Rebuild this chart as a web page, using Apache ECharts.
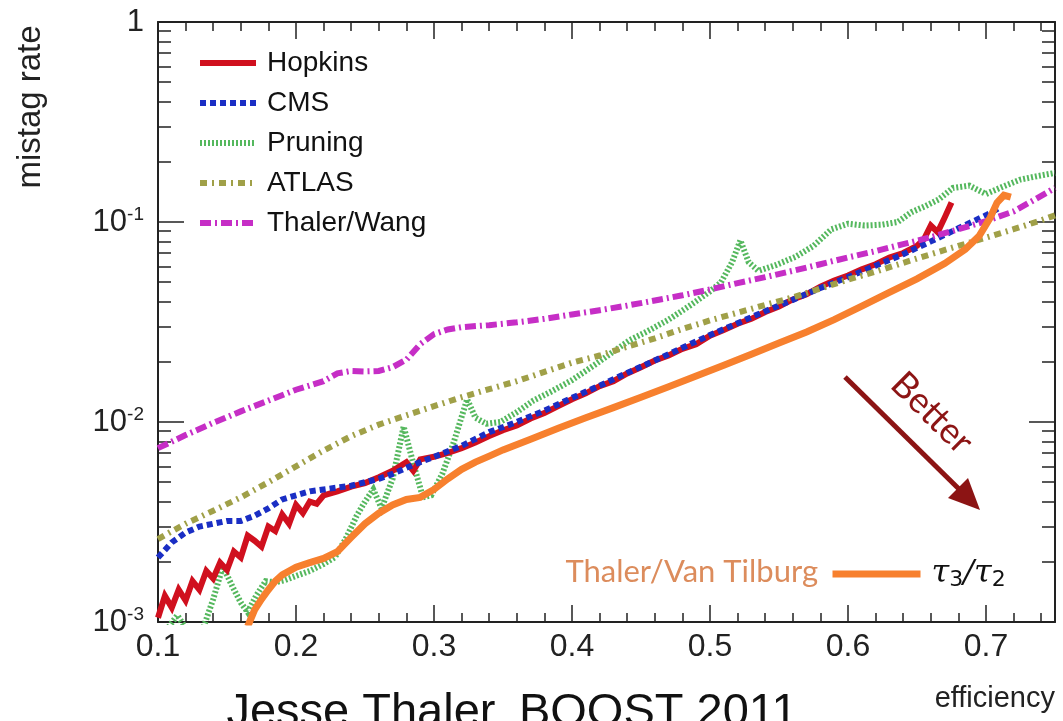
<!DOCTYPE html>
<html><head><meta charset="utf-8">
<script src="https://cdn.jsdelivr.net/npm/echarts@6/dist/echarts.min.js"></script>
<style>html,body{margin:0;padding:0;background:#fff}#c{width:1063px;height:721px}</style>
</head><body><div id="c"></div>
<script>
// ---- tick values ----
const xMajorTicks = [0.1,0.2,0.3,0.4,0.5,0.6,0.7];
const xMinorTicks = [0.12,0.14,0.16,0.18,0.22,0.24,0.26,0.28,0.32,0.34,0.36,0.38,0.42,0.44,0.46,0.48,0.52,0.54,0.56,0.58,0.62,0.64,0.66,0.68,0.72,0.74];
const yMajorTicks = [0.001,0.01,0.1,1];
const yMinorTicks = [0.002,0.003,0.004,0.005,0.006,0.007,0.008,0.009,0.02,0.03,0.04,0.05,0.06,0.07,0.08,0.09,0.2,0.3,0.4,0.5,0.6,0.7,0.8,0.9];

// ---- series [efficiency, mistag rate] ----
const hopkins = [[0.100,0.00105],[0.105,0.00135],[0.110,0.00118],[0.115,0.00145],[0.120,0.00128],[0.125,0.00160],[0.130,0.00145],[0.135,0.00180],[0.140,0.00165],[0.145,0.00198],[0.150,0.00182],[0.155,0.00225],[0.160,0.00210],[0.165,0.00270],[0.170,0.00255],[0.175,0.00238],[0.180,0.00300],[0.185,0.00285],[0.190,0.00345],[0.195,0.00310],[0.200,0.00385],[0.205,0.00350],[0.210,0.00400],[0.215,0.00390],[0.220,0.00430],[0.230,0.00450],[0.240,0.00475],[0.250,0.00495],[0.260,0.00530],[0.270,0.00570],[0.280,0.00630],[0.285,0.00570],[0.290,0.00650],[0.300,0.00670],[0.310,0.00700],[0.320,0.00740],[0.330,0.00790],[0.340,0.00850],[0.350,0.00910],[0.360,0.00960],[0.370,0.01040],[0.380,0.01110],[0.390,0.01200],[0.400,0.01300],[0.410,0.01390],[0.420,0.01510],[0.430,0.01600],[0.440,0.01750],[0.450,0.01880],[0.460,0.02030],[0.470,0.02150],[0.480,0.02320],[0.490,0.02450],[0.500,0.02700],[0.510,0.02880],[0.520,0.03100],[0.530,0.03280],[0.540,0.03550],[0.550,0.03780],[0.560,0.04100],[0.570,0.04350],[0.580,0.04750],[0.590,0.05100],[0.600,0.05400],[0.610,0.05800],[0.620,0.06150],[0.630,0.06650],[0.640,0.07000],[0.650,0.07600],[0.655,0.08200],[0.660,0.09600],[0.665,0.08900],[0.670,0.10500],[0.675,0.12500]];
const cms = [[0.10,0.0021],[0.11,0.0025],[0.12,0.0028],[0.13,0.0030],[0.14,0.0031],[0.15,0.0032],[0.16,0.0032],[0.17,0.0034],[0.18,0.0037],[0.19,0.0041],[0.20,0.0043],[0.21,0.0045],[0.22,0.0046],[0.23,0.0047],[0.24,0.0048],[0.25,0.0050],[0.26,0.0052],[0.27,0.0055],[0.28,0.0059],[0.29,0.0063],[0.30,0.0067],[0.32,0.0076],[0.34,0.0089],[0.36,0.0100],[0.38,0.0114],[0.40,0.0132],[0.42,0.0152],[0.44,0.0176],[0.46,0.0203],[0.48,0.0235],[0.50,0.0272],[0.52,0.0312],[0.54,0.0358],[0.56,0.0408],[0.58,0.0468],[0.60,0.0530],[0.62,0.0605],[0.64,0.0690],[0.66,0.0800],[0.68,0.0930],[0.70,0.1080],[0.71,0.1180]];
const pruning = [[0.100,0.00070],[0.108,0.00095],[0.114,0.00108],[0.118,0.00098],[0.124,0.00085],[0.132,0.00090],[0.140,0.00130],[0.147,0.00190],[0.154,0.00150],[0.160,0.00125],[0.165,0.00112],[0.171,0.00135],[0.178,0.00160],[0.185,0.00158],[0.192,0.00162],[0.200,0.00170],[0.210,0.00180],[0.220,0.00195],[0.228,0.00210],[0.236,0.00260],[0.244,0.00340],[0.250,0.00400],[0.256,0.00460],[0.262,0.00370],[0.270,0.00520],[0.278,0.00950],[0.285,0.00620],[0.292,0.00420],[0.298,0.00430],[0.306,0.00550],[0.314,0.00780],[0.324,0.01300],[0.330,0.01050],[0.338,0.00980],[0.348,0.01000],[0.360,0.01120],[0.372,0.01280],[0.385,0.01420],[0.400,0.01620],[0.415,0.01900],[0.430,0.02250],[0.442,0.02570],[0.455,0.02850],[0.470,0.03250],[0.485,0.03800],[0.500,0.04500],[0.508,0.05000],[0.516,0.06300],[0.522,0.08100],[0.528,0.06300],[0.535,0.05700],[0.548,0.06100],[0.562,0.06700],[0.575,0.07600],[0.588,0.09200],[0.600,0.09800],[0.612,0.09600],[0.625,0.09700],[0.636,0.10000],[0.646,0.11200],[0.656,0.12000],[0.666,0.13000],[0.676,0.14800],[0.688,0.15200],[0.700,0.13800],[0.712,0.15000],[0.725,0.16300],[0.738,0.17000],[0.750,0.17600]];
const atlas = [[0.10,0.0026],[0.12,0.0031],[0.14,0.0036],[0.16,0.0042],[0.18,0.0050],[0.20,0.0060],[0.22,0.0072],[0.24,0.0085],[0.26,0.0097],[0.28,0.0108],[0.30,0.0120],[0.32,0.0133],[0.34,0.0146],[0.36,0.0160],[0.38,0.0178],[0.40,0.0198],[0.42,0.0215],[0.44,0.0238],[0.46,0.0262],[0.48,0.0292],[0.50,0.0322],[0.52,0.0352],[0.54,0.0385],[0.56,0.0420],[0.58,0.0465],[0.60,0.0515],[0.62,0.0565],[0.64,0.0625],[0.66,0.0690],[0.68,0.0760],[0.70,0.0835],[0.72,0.0920],[0.74,0.1020],[0.75,0.1080]];
const thalerWang = [[0.10,0.0074],[0.12,0.0086],[0.14,0.0099],[0.16,0.0113],[0.18,0.0128],[0.20,0.0145],[0.22,0.0160],[0.23,0.0175],[0.24,0.0180],[0.25,0.0179],[0.26,0.0180],[0.27,0.0188],[0.28,0.0205],[0.29,0.0245],[0.30,0.0275],[0.31,0.0290],[0.32,0.0298],[0.34,0.0305],[0.36,0.0315],[0.38,0.0328],[0.40,0.0345],[0.42,0.0362],[0.44,0.0382],[0.46,0.0405],[0.48,0.0430],[0.50,0.0460],[0.52,0.0495],[0.54,0.0530],[0.56,0.0570],[0.58,0.0615],[0.60,0.0665],[0.62,0.0715],[0.64,0.0775],[0.66,0.0840],[0.68,0.0920],[0.70,0.1010],[0.72,0.1130],[0.74,0.1350],[0.75,0.1480]];
const thalerVanTilburg = [[0.165,0.00095],[0.170,0.00115],[0.175,0.00130],[0.180,0.00145],[0.185,0.00160],[0.190,0.00172],[0.200,0.00188],[0.210,0.00198],[0.220,0.00208],[0.230,0.00225],[0.240,0.00265],[0.250,0.00310],[0.260,0.00350],[0.270,0.00385],[0.280,0.00410],[0.290,0.00420],[0.300,0.00460],[0.310,0.00520],[0.320,0.00580],[0.330,0.00630],[0.340,0.00675],[0.350,0.00725],[0.370,0.00820],[0.390,0.00930],[0.410,0.01050],[0.430,0.01180],[0.450,0.01330],[0.470,0.01500],[0.490,0.01700],[0.510,0.01920],[0.530,0.02180],[0.550,0.02480],[0.570,0.02820],[0.590,0.03250],[0.610,0.03800],[0.630,0.04450],[0.650,0.05200],[0.670,0.06200],[0.685,0.07300],[0.695,0.08500],[0.703,0.10500],[0.708,0.12500],[0.713,0.13600],[0.718,0.13300]];

const FONT = '"Liberation Sans", Arial, Helvetica, sans-serif';
const AX = '#222';
const chart = echarts.init(document.getElementById('c'), null, {renderer: 'canvas'});

function xAxisDef(pos, ticks, len, main) {
  return {
    type: 'value', position: pos, min: 0.1, max: 0.75,
    axisLine: {show: main, onZero: false, lineStyle: {color: AX, width: 2}},
    axisTick: {show: true, inside: true, length: len, customValues: ticks, lineStyle: {color: AX, width: 1.5}},
    axisLabel: pos === 'bottom' && main ? {show: true, customValues: xMajorTicks, fontSize: 32, color: AX, fontFamily: FONT, margin: 9, formatter: v => v.toFixed(1)} : {show: false},
    splitLine: {show: false},
    name: pos === 'bottom' && main ? 'efficiency' : '',
    nameLocation: 'end', nameGap: 0,
    nameTextStyle: {fontSize: 29, color: AX, fontFamily: FONT, align: 'right', verticalAlign: 'top', padding: [62, 0, 0, 0]}
  };
}
function yAxisDef(pos, ticks, len, main) {
  return {
    type: 'log', logBase: 10, position: pos, min: 0.001, max: 1,
    axisLine: {show: main, onZero: false, lineStyle: {color: AX, width: 2}},
    axisTick: {show: true, inside: true, length: len, customValues: ticks, lineStyle: {color: AX, width: 1.5}},
    axisLabel: pos === 'left' && main ? {
      show: true, customValues: yMajorTicks, margin: 14, color: AX,
      formatter: v => v >= 1 ? '{b|1}' : '{b|10}{s|' + Math.round(Math.log10(v)) + '}',
      rich: {
        b: {fontSize: 31, fontFamily: FONT, color: AX},
        s: {fontSize: 19, fontFamily: FONT, color: AX, verticalAlign: 'top', padding: [0, 0, 14, 0]}
      }
    } : {show: false},
    splitLine: {show: false}
  };
}

function lineSeries(name, data, color, width, type, z) {
  return {name, type: 'line', data, symbol: 'none', showSymbol: false, clip: true, z,
    lineStyle: {color, width, type, cap: 'butt', join: 'miter'}, itemStyle: {color},
    emphasis: {disabled: true}, silent: true};
}

const option = {
  animation: false,
  backgroundColor: '#fff',
  grid: {left: 158, right: 8, top: 22, bottom: 99, containLabel: false},
  xAxis: [xAxisDef('bottom', xMajorTicks, 17, true), xAxisDef('bottom', xMinorTicks, 9, false),
          xAxisDef('top', xMajorTicks, 17, true), xAxisDef('top', xMinorTicks, 9, false)],
  yAxis: [yAxisDef('left', yMajorTicks, 26, true), yAxisDef('left', yMinorTicks, 13, false),
          yAxisDef('right', yMajorTicks, 26, true), yAxisDef('right', yMinorTicks, 13, false)],
  legend: [{
    orient: 'vertical', left: 192, top: 43, itemWidth: 56, itemHeight: 14, itemGap: 10,
    data: ['Hopkins', 'CMS', 'Pruning', 'ATLAS', 'Thaler/Wang'],
    textStyle: {fontSize: 28, fontFamily: FONT, color: '#111', lineHeight: 30, padding: [0, 0, 0, 6]},
    lineStyle: {width: 'inherit', type: 'inherit'},
    itemStyle: {opacity: 0, borderWidth: 0},
    selectedMode: false
  }, {
    orient: 'horizontal', left: 824, top: 553, itemWidth: 88, itemHeight: 14,
    data: ['τ3/τ2'],
    formatter: () => '{t|τ}{s|3}{t|/τ}{s|2}',
    textStyle: {color: '#111', padding: [0, 0, 0, 6], rich: {
      t: {fontSize: 32, fontFamily: '"DejaVu Serif", serif', fontStyle: 'italic', color: '#111'},
      s: {fontSize: 22, fontFamily: '"DejaVu Sans", sans-serif', color: '#111', verticalAlign: 'bottom', padding: [12, 0, 0, 0]}
    }},
    lineStyle: {width: 'inherit'},
    itemStyle: {opacity: 0, borderWidth: 0},
    selectedMode: false
  }],
  series: [
    lineSeries('Hopkins', hopkins, '#d0101e', 6, 'solid', 3),
    lineSeries('CMS', cms, '#1a2ec4', 6, [6, 4], 4),
    lineSeries('Pruning', pruning, '#55b85e', 6, [2, 2], 2),
    lineSeries('ATLAS', atlas, '#a0a048', 6, [7, 5, 2, 5], 4),
    lineSeries('Thaler/Wang', thalerWang, '#c62ec6', 6, [11, 4, 2, 4], 4),
    lineSeries('τ3/τ2', thalerVanTilburg, '#f7802e', 7, 'solid', 5)
  ],
  graphic: [
    {type: 'text', x: 31, y: 107, rotation: Math.PI / 2,
     style: {text: 'mistag rate', fontSize: 33, fontFamily: FONT, fill: AX, align: 'center', verticalAlign: 'middle'}},
    {type: 'text', x: 818, y: 572,
     style: {text: 'Thaler/Van Tilburg', fontSize: 31, fontFamily: 'Lato, "Open Sans", sans-serif', fill: '#dc8c5c', align: 'right', verticalAlign: 'middle'}},
    {type: 'line', shape: {x1: 845, y1: 377, x2: 962, y2: 492}, style: {stroke: '#8c1414', lineWidth: 5}},
    {type: 'polygon', shape: {points: [[980, 510], [948, 498], [968, 478]]}, style: {fill: '#8c1414'}},
    {type: 'text', x: 932, y: 413, rotation: -0.78,
     style: {text: 'Better', fontSize: 36, fontFamily: 'Lato, "Open Sans", sans-serif', fill: '#8c1414', align: 'center', verticalAlign: 'middle'}},
    {type: 'text', x: 512, y: 690,
     style: {text: 'Jesse Thaler, BOOST 2011', fontSize: 47, fontFamily: FONT, fill: '#111', align: 'center', verticalAlign: 'top'}}
  ]
};
chart.setOption(option);
</script></body></html>
